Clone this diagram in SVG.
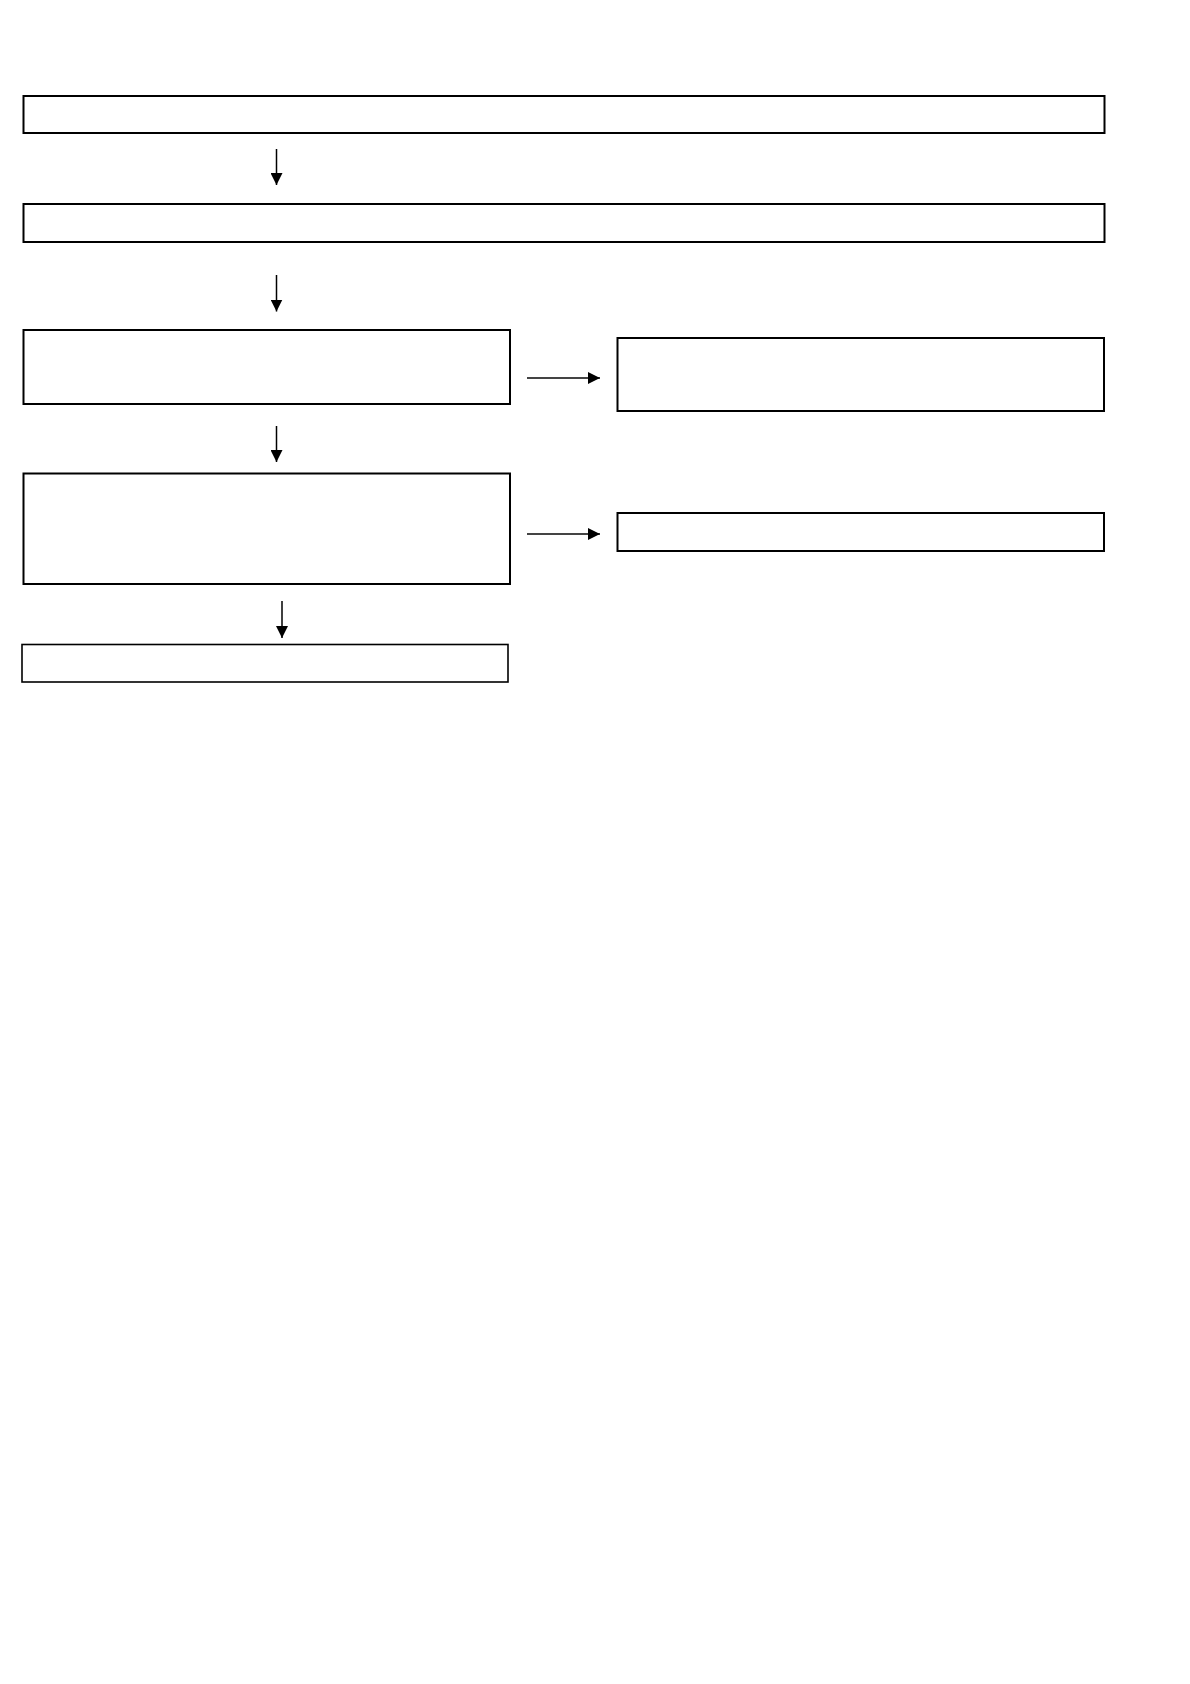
<svg xmlns="http://www.w3.org/2000/svg" width="1190" height="1684" viewBox="0 0 1190 1684">
<style>
.box{fill:#fff;stroke:#000;stroke-width:2}
.thin{stroke-width:1.6}
.v{stroke:#000;stroke-width:1.5;fill:none}
.h{stroke:#444;stroke-width:1.8;fill:none}
</style>
<defs>
<marker id="ah" markerWidth="12" markerHeight="12" viewBox="0 0 12 12" refX="12" refY="6" orient="auto" markerUnits="userSpaceOnUse">
<path d="M0,0 L12,6 L0,12 Z" fill="#000"/>
</marker>
</defs>
<rect width="1190" height="1684" fill="#fff"/>
<g id="n1"><rect class="box" x="23.5" y="96" width="1081" height="37"/></g>
<g id="n2"><rect class="box" x="23.5" y="204" width="1081" height="38"/></g>
<g id="n3"><rect class="box" x="23.5" y="330" width="486.5" height="74"/></g>
<g id="n4"><rect class="box" x="617.5" y="338" width="486.5" height="73"/></g>
<g id="n5"><rect class="box" x="23.5" y="473.5" width="486.5" height="110.5"/></g>
<g id="n6"><rect class="box" x="617.5" y="513" width="486.5" height="38"/></g>
<g id="n7"><rect class="box thin" x="22" y="644.5" width="486" height="37.5"/></g>
<g id="connectors">
<line class="v" x1="276.5" y1="149" x2="276.5" y2="185" marker-end="url(#ah)"/>
<line class="v" x1="276.5" y1="275" x2="276.5" y2="311.5" marker-end="url(#ah)"/>
<line class="h" x1="527" y1="378" x2="600" y2="378" marker-end="url(#ah)"/>
<line class="v" x1="276.5" y1="426" x2="276.5" y2="462" marker-end="url(#ah)"/>
<line class="h" x1="527" y1="534" x2="600" y2="534" marker-end="url(#ah)"/>
<line class="v" x1="282" y1="601" x2="282" y2="638" marker-end="url(#ah)"/>
</g>
</svg>
